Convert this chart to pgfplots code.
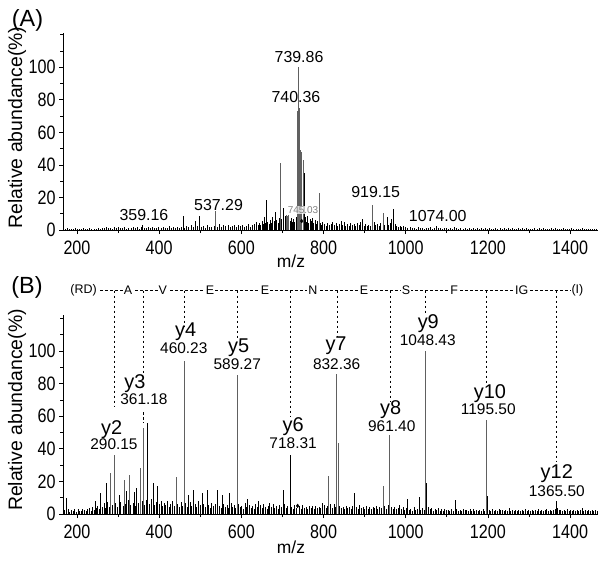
\documentclass[border=0pt]{standalone}
\usepackage{fontspec}
\setmainfont{Liberation Sans}
\newfontfamily\nf{Liberation Sans}[FakeStretch=0.83]
\usepackage{pgfplots}
\pgfplotsset{compat=1.18}
\definecolor{pk}{HTML}{606060}
\pgfplotsset{spec/.style={
  scale only axis, width=535bp, height=197bp,
  xmin=166, xmax=1468, ymin=0, ymax=121,
  axis x line=bottom, axis y line=left,
  axis line style={-, black, line width=0.6bp},
  xtick={200,400,...,1400}, minor xtick={300,500,...,1300},
  ytick={0,20,...,100}, minor ytick={10,30,50,70,90,110,120},
  tick align=outside, major tick length=4bp, minor tick length=3bp,
  tick style={black, line width=0.6bp},
  /pgf/number format/assume math mode=true,
  /pgf/number format/1000 sep={},
  ticklabel style={font=\nf\fontsize{19.5}{20}\selectfont},
  xticklabel style={yshift=-3bp},
  clip=false,
}}
\tikzset{noise/.style={ycomb, black, line width=0.55bp, no marks},
  peak/.style={ycomb, pk, line width=0.8bp, no marks},
  lab/.style={font=\fontsize{16}{17}\selectfont, inner sep=0pt},
  num/.style={font=\fontsize{15.5}{16}\selectfont, inner sep=0pt},
  yl/.style={font=\fontsize{20}{21}\selectfont, inner sep=0pt},
  sq/.style={font=\fontsize{12.5}{13}\selectfont, fill=white, inner sep=1pt},
  dl/.style={black, line width=0.6bp, dash pattern=on 2.5bp off 2.5bp}}
\begin{document}
\begin{tikzpicture}[x=1bp,y=1bp]
\useasboundingbox (0,0) rectangle (600,-564);
\node[font=\fontsize{23.5}{25}\selectfont] at (27.5,-20) {(A)};
\node[font=\fontsize{23.5}{25}\selectfont] at (27,-287) {(B)};
\node[font=\fontsize{19.5}{20}\selectfont, rotate=90] at (17,-127.5) {Relative abundance(\%)};
\node[font=\fontsize{19.5}{20}\selectfont, rotate=90] at (17,-410) {Relative abundance(\%)};
\node[font=\fontsize{17.5}{18}\selectfont, anchor=base] at (291,-267) {m/z};
\node[font=\fontsize{17.5}{18}\selectfont, anchor=base] at (291,-553) {m/z};
% ---------------- Panel A
\begin{axis}[spec, at={(63bp,-230bp)}, anchor=south west]
\addplot[noise] coordinates {(171,0.6)(176,1.0)(181,0.5)(186,0.9)(191,0.7)(196,1.1)(201,0.6)(206,0.8)(211,0.5)(216,1.0)(221,0.7)(226,0.6)(231,1.2)(236,0.8)(241,0.5)(246,0.9)
(251,1.3)(256,0.9)(261,1.5)(266,1.1)(271,1.8)(276,1.0)(281,1.4)(286,0.8)(291,1.6)(296,1.2)(301,1.9)(306,1.0)(311,1.3)(316,1.7)(321,0.9)(326,1.5)(331,1.1)(336,2.0)(341,1.2)(346,1.6)(351,0.9)(356,1.8)(359.16,3.2)(364,1.4)(369,1.0)(374,1.7)(379,1.2)(384,2.1)(389,1.3)(394,1.0)(399,1.6)(404,1.2)(409,1.9)(414,1.1)(419,1.5)(424,2.2)(429,1.0)(434,1.7)(439,1.3)(444,1.9)(449,1.2)
(454,2.0)(458,8.6)(462,1.5)(467,2.4)(472,1.6)(477,2.8)(482,1.9)(487,5.5)(492,2.2)(498,8.7)(503,1.8)(508,2.6)(513,1.5)(518,2.9)(523,2.0)(528,1.6)(533,2.7)(542,2.1)(547,3.4)(552,1.8)(557,2.9)(562,2.2)(567,3.1)(572,1.7)(577,2.5)(582,3.3)(587,1.9)(592,2.8)(597,2.2)(602,3.0)(607,1.8)(612,2.6)(617,3.4)(622,2.0)(627,2.9)(632,3.8)(637,5.0)
(641,3.2)(644,4.5)(647,2.8)(650,5.6)(653,3.5)(656,7.8)(659,4.2)(661,18.2)(664,5.0)(667,3.6)(670,6.4)(673,4.1)(676,8.2)(679,5.3)(683,11.2)(686,6.0)(689,4.4)(692,7.5)(698,6.8)(701,9.0)(703,13.5)(706,8.4)(718,5.5)(721,7.2)(724,4.8)(727,6.9)(730,5.1)(733,8.0)(752,35)(755,7.8)(758,5.2)(761,8.5)(764,4.6)(767,6.8)(770,5.4)(773,7.2)(776,4.1)(779,6.0)(782,3.8)(786,5.5)(792,4.4)(795,3.2)(798,5.0)
(802,3.4)(806,2.5)(810,4.2)(814,2.8)(818,3.8)(822,5.1)(826,3.0)(830,4.6)(834,2.6)(838,3.9)(842,5.4)(846,3.1)(850,4.8)(854,2.7)(858,3.6)(862,2.4)(866,4.0)(870,2.9)(874,3.5)(878,2.2)(882,4.4)(886,3.0)(890,5.2)(894,7.0)(898,2.6)(902,3.7)(906,2.3)(910,3.2)(914,2.5)(923,5.0)(927,2.8)(931,3.6)(935,2.4)(939,4.1)(949,3.3)(954,8.2)(958,3.0)(962,4.5)(966,6.5)(970,12.7)(974,3.4)(978,2.5)(982,2.0)(986,2.7)(990,1.8)(995,2.3)
(1000,1.6)(1005,1.2)(1010,2.0)(1015,1.1)(1020,1.5)(1025,0.9)(1030,1.7)(1035,1.0)(1040,1.4)(1045,0.8)(1050,1.3)(1055,1.0)(1060,1.6)(1065,0.9)(1070,1.2)(1074,2.2)(1079,1.0)(1084,1.4)(1089,0.8)(1094,1.1)(1099,1.5)(1104,0.9)(1109,1.2)(1114,0.7)(1119,1.6)(1124,1.0)(1129,0.8)(1134,1.3)(1139,0.9)(1144,1.1)(1149,0.7)(1154,1.2)(1159,0.8)(1164,1.0)(1169,0.6)(1174,1.1)(1179,0.8)(1184,1.3)(1189,0.7)(1194,1.0)(1199,0.8)(1204,1.2)(1209,0.6)(1214,0.9)(1219,1.1)(1224,0.7)(1229,1.0)(1234,0.8)(1239,1.2)(1244,0.7)(1249,1.5)(1254,0.8)(1259,1.0)(1264,0.6)(1269,0.9)(1274,1.1)(1279,0.7)(1284,1.0)(1289,0.8)(1294,1.2)(1299,0.7)(1304,0.9)(1309,0.6)(1314,1.1)(1319,0.8)(1324,1.4)(1329,0.7)(1334,1.0)(1339,0.8)(1344,0.9)(1349,0.6)(1354,1.0)(1359,0.8)(1364,1.1)(1369,0.7)(1374,0.9)(1379,0.6)(1384,1.0)(1389,0.8)(1394,0.9)(1399,0.6)(1404,1.0)(1409,0.7)(1414,0.9)(1419,0.6)(1424,0.8)(1429,1.0)(1434,0.7)(1439,0.8)(1444,0.6)(1449,0.9)(1454,0.7)(1459,0.8)(1464,0.6)};
\addplot[peak] coordinates {(537.29,11.8)(695,41)(709,9.2)(712,8.6)(715,9.0)(737,73)(738.5,74)(739.86,100)(740.36,75)(741.2,72)(742.2,70)(743.5,49)(745,48)(746.5,46)(750,43)(789,22.5)(919.15,15.3)(945,10.2)};
\addplot[only marks, mark=diamond*, mark size=1.8bp, black] coordinates {(747,5.5)};
\node[lab] at (axis cs:740.4,106) {739.86};
\node[lab] at (axis cs:733,81.6) {740.36};
\node[lab] at (axis cs:363,9.2) {359.16};
\node[lab] at (axis cs:544.5,15.3) {537.29};
\node[lab] at (axis cs:927,23.3) {919.15};
\node[lab] at (axis cs:1078,8.6) {1074.00};
\end{axis}
\node[font=\fontsize{10}{11}\selectfont, text=gray, fill=white, fill opacity=0.75, text opacity=1, inner sep=0.5pt] at (303,-210) {745.03};
% ---------------- Panel B
\begin{axis}[spec, height=199bp, ymax=122, at={(63bp,-514bp)}, anchor=south west]
\addplot[noise] coordinates {(170,2.5)(174,1.8)(178,3.0)(182,1.5)(186,2.6)(190,1.9)(194,3.2)(198,1.4)(202,2.8)(206,2.0)(210,1.6)(214,3.1)(218,2.2)(222,1.7)(226,2.9)(230,3.5)(234,2.1)(238,4.0)(242,2.6)(246,3.8)(250,5.2)(254,3.0)(262,4.6)(266,6.5)(270,3.4)(274,7.2)(278,4.1)(286,5.5)(294,6.8)(298,4.2)(306,7.6)(312,5.0)(318,6.2)(324,8.4)(330,5.6)(336,7.0)(342,4.8)(350,6.6)(358,7.9)(364,5.4)(368,8.8)(375,6.1)(380,9.0)(387,5.8)(392,7.4)(400,6.0)(404,8.2)(408,4.9)(412,6.9)(416,5.3)(420,7.8)(424,4.6)(428,6.4)(432,8.0)(436,5.1)(445,6.3)(449,4.4)(453,7.1)(457,5.0)(464,6.7)(468,4.3)(475,7.5)(479,5.2)(487,6.0)(491,4.1)(495,7.7)(499,5.5)(508,6.1)(512,4.0)(520,5.8)(524,3.9)(528,7.0)(532,4.7)(536,6.2)(546,5.0)(550,3.6)(557,6.4)(561,4.2)(565,5.6)(568,3.5)(575,6.9)(579,4.0)(583,5.3)(586,3.4)(593,6.0)(597,4.4)(601,5.1)(605,3.3)(609,6.6)(612,4.0)(619,5.7)(623,3.8)(627,4.9)(631,3.2)(635,6.2)(639,4.1)(646,5.4)(650,3.6)(654,6.3)(658,4.5)(662,3.1)(666,5.2)(673,4.4)(677,6.0)(681,3.5)(685,4.8)(689,3.0)(693,5.6)(697,4.2)(705,6.4)(709,3.9)(713,5.0)(722,4.6)(726,3.3)(730,5.5)(734,3.8)(741,4.9)(745,3.2)(749,5.8)(753,3.6)(757,4.4)(761,3.0)(765,5.2)(769,3.7)(773,4.8)(777,3.1)(781,5.0)(785,3.4)(789,4.6)(793,3.9)(802,5.3)(806,3.5)(809,4.7)(817,5.9)(821,3.8)(825,6.2)(828,4.1)(839,5.0)(843,3.6)(847,4.4)(851,3.0)(855,5.2)(859,3.7)(863,4.1)(867,3.2)(871,5.0)(880,4.6)(884,3.1)(888,5.6)(892,3.4)(896,4.2)(900,2.9)(904,4.8)(908,3.3)(912,4.0)(916,2.8)(920,4.5)(924,3.6)(928,5.1)(932,3.0)(936,4.3)(940,3.5)(949,4.9)(953,3.2)(957,5.4)(965,4.0)(969,3.1)(973,4.6)(977,2.9)(981,3.8)(985,5.7)(989,3.0)(993,4.2)(997,2.7)
(1001,3.5)(1008,2.4)(1012,3.2)(1016,2.0)(1020,4.0)(1024,2.5)(1028,3.3)(1036,2.6)(1040,3.8)(1044,2.2)(1055,4.2)(1059,2.8)(1063,3.5)(1067,2.1)(1071,3.0)(1075,2.4)(1079,3.4)(1083,2.0)(1087,2.8)(1091,1.9)(1095,3.1)(1099,2.2)(1103,2.7)(1107,1.8)(1111,3.0)(1115,2.1)(1124,3.2)(1128,2.0)(1132,2.6)(1136,1.7)(1140,2.9)(1144,2.2)(1148,2.5)(1152,1.6)(1156,2.8)(1160,2.0)(1164,3.0)(1168,1.8)(1172,2.4)(1176,1.9)(1180,2.7)(1184,2.1)(1188,3.3)(1192,2.0)(1203,2.6)(1207,1.8)(1211,2.9)(1215,2.0)(1219,2.5)(1223,1.7)(1227,2.8)(1231,2.2)(1235,2.4)(1239,1.6)(1243,2.7)(1247,2.0)(1251,3.4)(1255,1.8)(1259,2.3)(1263,1.7)(1267,2.6)(1271,1.9)(1275,2.4)(1279,1.6)(1283,2.5)(1287,2.0)(1291,2.8)(1295,1.7)(1299,2.3)(1303,1.8)(1307,2.6)(1311,2.0)(1315,2.4)(1319,1.6)(1323,2.9)(1327,2.1)(1331,2.5)(1335,1.8)(1339,2.3)(1343,3.2)(1347,2.0)(1351,2.6)(1355,1.8)(1359,2.4)(1363,2.9)(1369,3.6)(1373,2.2)(1377,2.7)(1381,2.0)(1385,2.5)(1389,1.7)(1393,2.8)(1397,2.1)(1401,2.4)(1405,1.8)(1409,2.6)(1413,2.0)(1417,2.3)(1421,1.7)(1425,2.5)(1429,3.4)(1433,2.0)(1437,2.4)(1441,1.8)(1445,2.6)(1449,2.0)(1453,2.3)(1457,1.7)(1461,2.5)(1465,2.0)};
\addplot[noise] coordinates {(173,10)(244,8)(256,13)(270.6,19)(303,11.7)(321,14)(339,13.7)(345.5,16)(371.5,56)(384.6,19)(396,17)(471.5,11.7)(483.7,15)(504,13)(516,15)(542,14.7)(553,11.7)(571.5,12.9)(615.5,9.4)(642,8)(669,7)(701,15)(718.31,36)(798,7)(876,13)(1004,9.4)(1032,10.7)(1050,19)(1119.5,8.8)(1198,11)(1365.50,8)};
\addplot[peak] coordinates {(282,25)(290.15,36.3)(315.5,21)(327.6,24)(353.7,28)(361.18,53)(441.5,22.8)(460.23,94)(589.27,85.3)(813,23)(832.36,86)(835,43.5)(945,17)(961.40,48.6)(1048.43,100)(1195.50,57.5)};
\addplot[only marks, mark=diamond*, mark size=1.8bp, black] coordinates {(737,5)};
% labels
\node[yl] at (axis cs:284.5,52) {y2};   \node[num] at (axis cs:290,43) {290.15};
\node[yl] at (axis cs:341,80) {y3};     \node[num] at (axis cs:363,70.5) {361.18};
\node[yl] at (axis cs:464.6,111.6) {y4};\node[num] at (axis cs:460,101.6) {460.23};
\node[yl] at (axis cs:593.6,102) {y5};  \node[num] at (axis cs:590,91.9) {589.27};
\node[yl] at (axis cs:726,53.5) {y6};   \node[num] at (axis cs:726,43.5) {718.31};
\node[yl] at (axis cs:830.5,103) {y7};  \node[num] at (axis cs:832,92) {832.36};
\node[yl] at (axis cs:963.6,63.7) {y8}; \node[num] at (axis cs:966,54) {961.40};
\node[yl] at (axis cs:1055,116.8) {y9}; \node[num] at (axis cs:1053.7,106.5) {1048.43};
\node[yl] at (axis cs:1205,74) {y10};   \node[num] at (axis cs:1201,64.3) {1195.50};
\node[yl] at (axis cs:1367.7,24.5) {y12};\node[num] at (axis cs:1367.7,13.7) {1365.50};
% sequence ladder
\draw[dl] (axis cs:232,137) -- (axis cs:1403,137);
\draw[dl] (axis cs:290.15,137) -- (axis cs:290.15,65.7);
\draw[dl] (axis cs:361.18,137) -- (axis cs:361.18,86);
\draw[dl] (axis cs:361.18,62.5) -- (axis cs:361.18,56);
\draw[dl] (axis cs:460.23,137) -- (axis cs:460.23,114.7);
\draw[dl] (axis cs:589.27,137) -- (axis cs:589.27,107.6);
\draw[dl] (axis cs:718.31,137) -- (axis cs:718.31,59.6);
\draw[dl] (axis cs:832.36,137) -- (axis cs:832.36,108.6);
\draw[dl] (axis cs:961.40,137) -- (axis cs:961.40,68.8);
\draw[dl] (axis cs:1048.43,137) -- (axis cs:1048.43,122.9);
\draw[dl] (axis cs:1195.50,137) -- (axis cs:1195.50,79);
\draw[dl] (axis cs:1365.50,137) -- (axis cs:1365.50,32);
\node[sq] at (axis cs:216,137) {(RD)};
\node[sq] at (axis cs:324,137) {A};
\node[sq] at (axis cs:409,137) {V};
\node[sq] at (axis cs:524,137) {E};
\node[sq] at (axis cs:657.6,137) {E};
\node[sq] at (axis cs:774,137) {N};
\node[sq] at (axis cs:898.6,137) {E};
\node[sq] at (axis cs:1001,137) {S};
\node[sq] at (axis cs:1117.7,137) {F};
\node[sq] at (axis cs:1282.5,137) {IG};
\node[sq] at (axis cs:1418,137) {(I)};
\end{axis}
\end{tikzpicture}
\end{document}
